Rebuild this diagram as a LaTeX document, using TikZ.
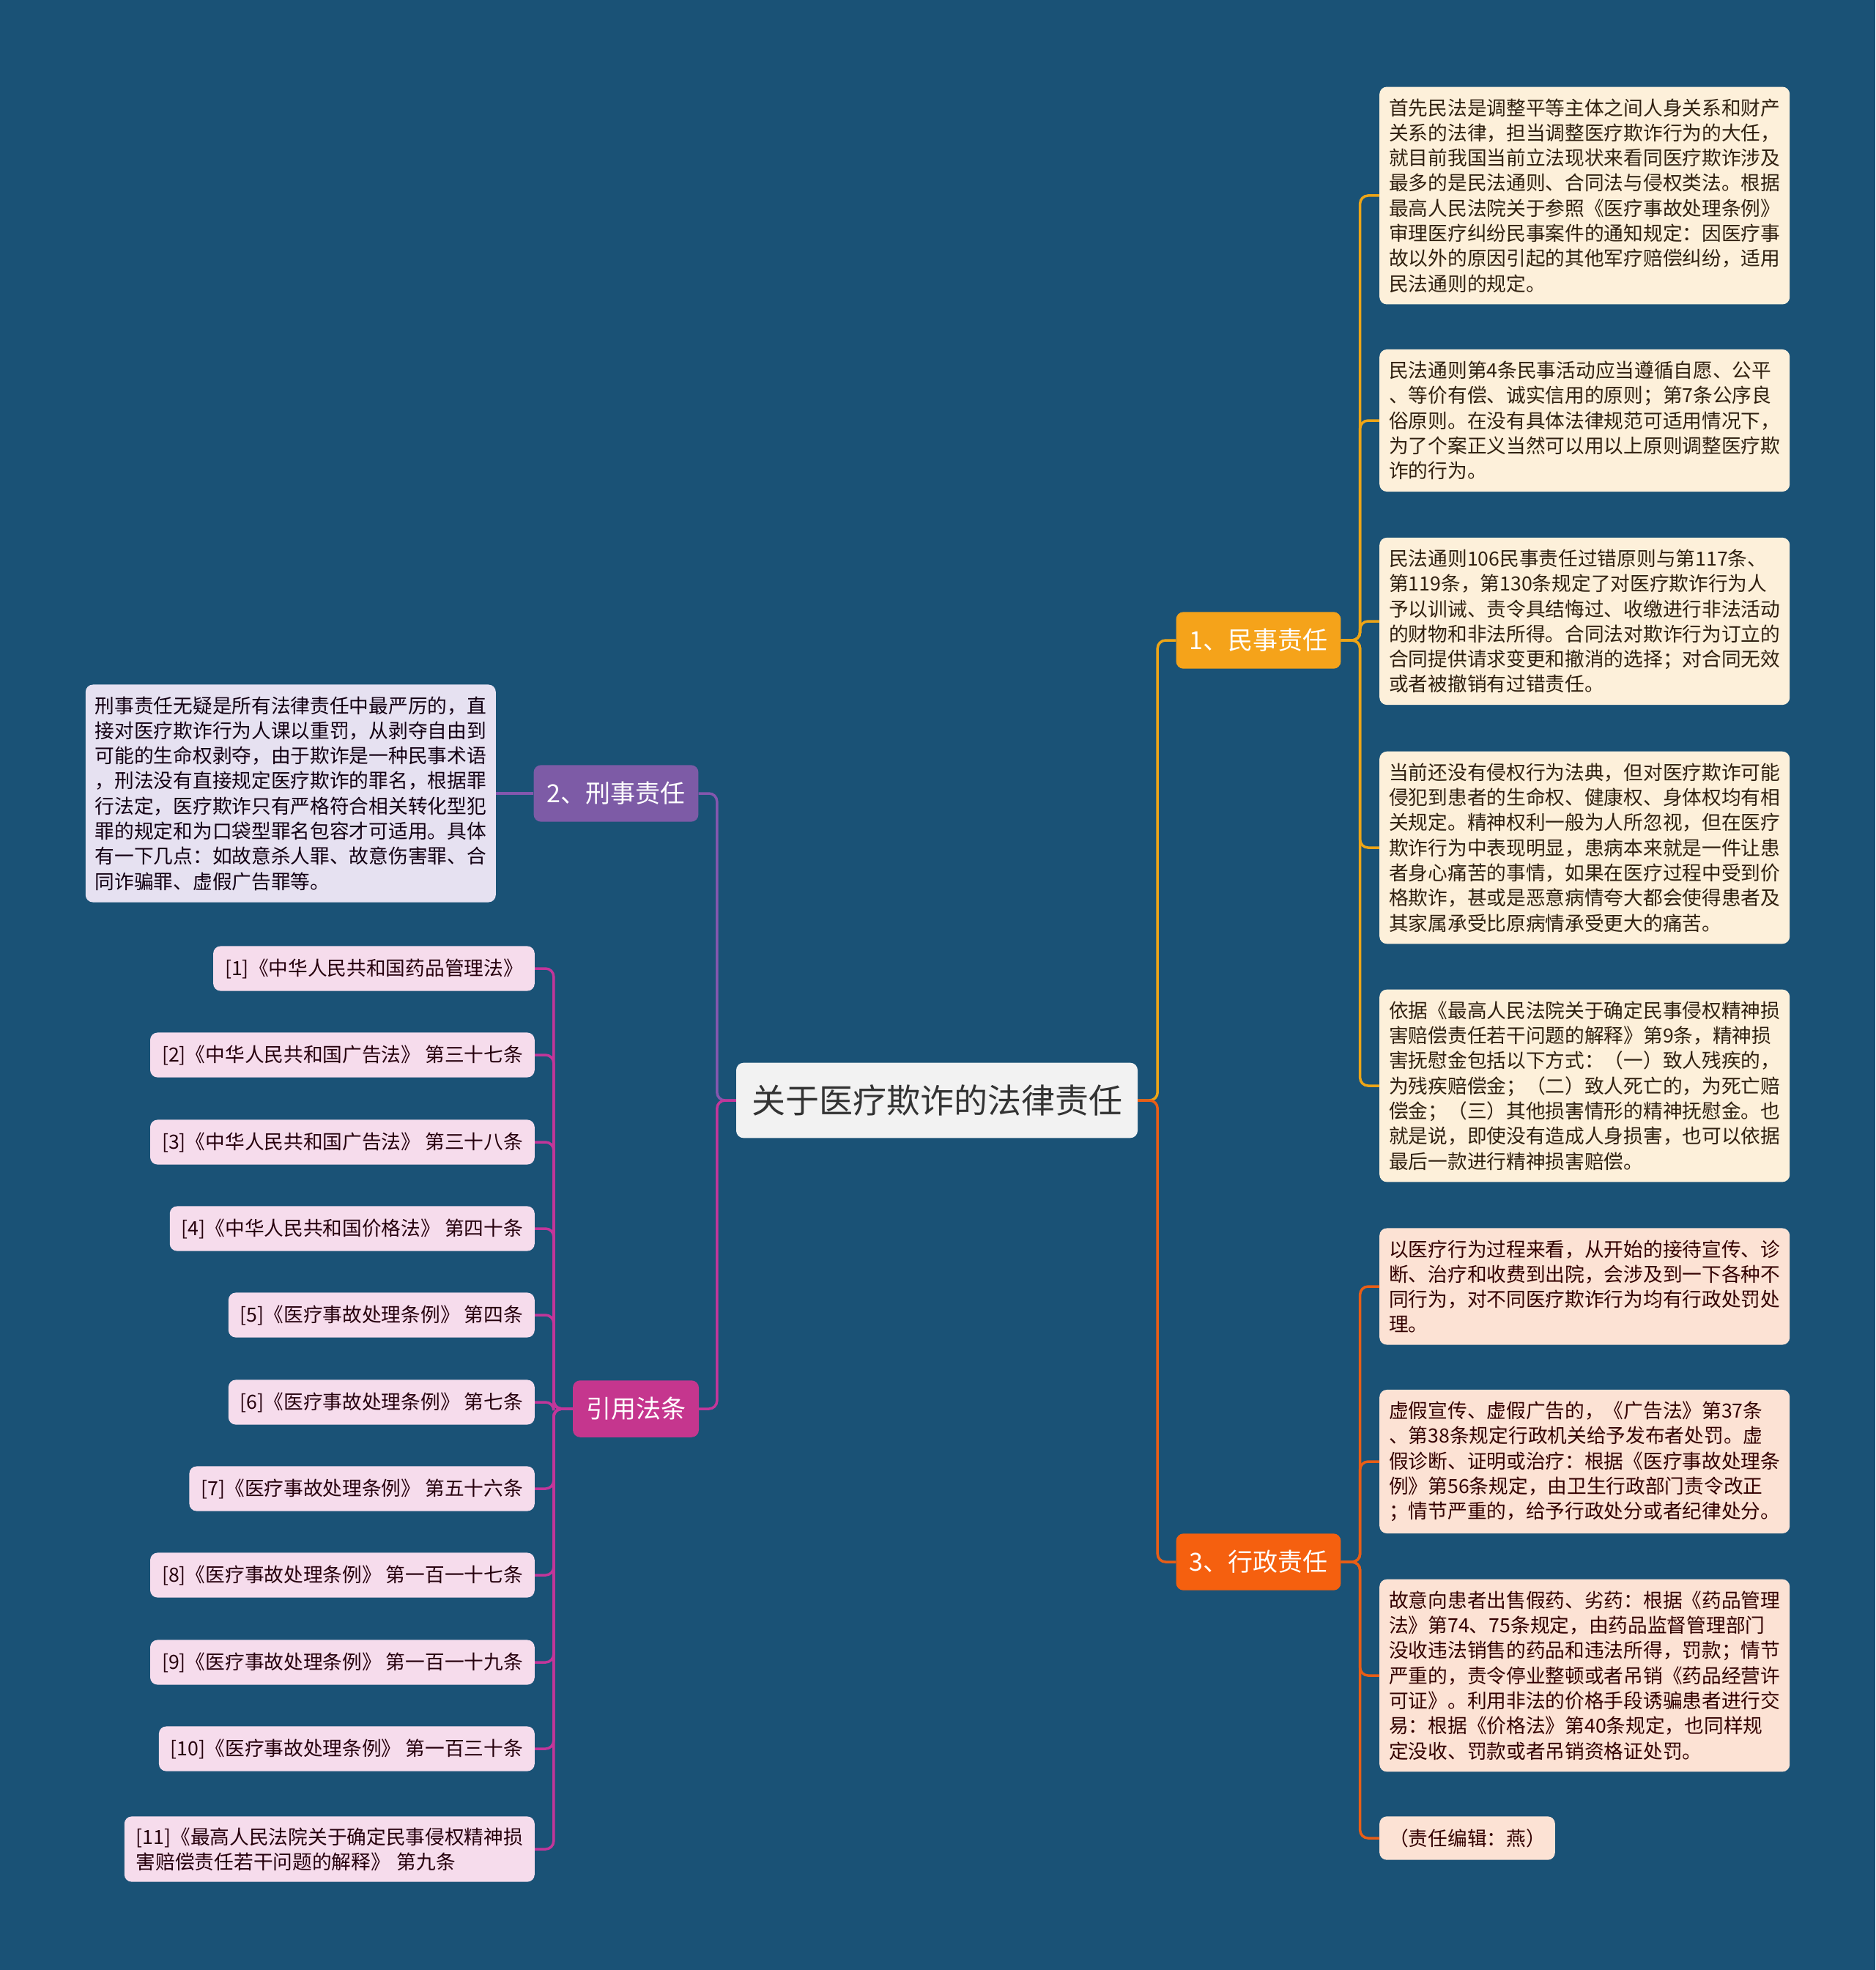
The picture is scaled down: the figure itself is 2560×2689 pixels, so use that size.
\documentclass[tikz,border=0pt]{standalone}
\usepackage{fontspec}
\setmainfont{Noto Sans CJK SC}

\definecolor{bgblue}{HTML}{1A5276}
\definecolor{rootfill}{HTML}{F2F2F2}
\definecolor{civilfill}{HTML}{F5A31A}
\definecolor{crimfill}{HTML}{7D5BA6}
\definecolor{citefill}{HTML}{C5368E}
\definecolor{adminfill}{HTML}{F5600F}
\definecolor{civilleaf}{HTML}{FDF0DA}
\definecolor{adminleaf}{HTML}{FCE2D4}
\definecolor{crimleaf}{HTML}{E6E1F1}
\definecolor{citeleaf}{HTML}{F6DCEC}
\definecolor{civilline}{HTML}{EDA517}
\definecolor{adminline}{HTML}{E85E16}
\definecolor{crimline}{HTML}{8457AE}
\definecolor{citeline}{HTML}{C2369A}

\newcommand{\leaffont}{\fontsize{26.7}{34.3}\selectfont}
\newcommand{\branchfont}{\fontsize{34}{40}\selectfont}
\newcommand{\rootfont}{\fontsize{46}{54}\selectfont}

\begin{document}
\begin{tikzpicture}[x=1pt, y=-1pt,
	box/.style={rounded corners=10pt, align=left},
	branch/.style={box, font=\branchfont, text=white, inner xsep=18pt, inner ysep=23pt},
	civil leaf/.style={box, fill=civilleaf, text=black!75!brown, font=\leaffont, text width=534pt, inner xsep=13pt, inner ysep=16pt},
	admin leaf/.style={civil leaf, fill=adminleaf, text=black!80!red},
	crim leaf/.style={civil leaf, fill=crimleaf, text=black!85!violet},
	cite leaf/.style={box, fill=citeleaf, text=black!80!purple, font=\leaffont, inner xsep=16pt, inner ysep=17pt},
	link/.style={line width=3.5pt, rounded corners=11pt}]
	\fill[bgblue] (0,0) rectangle (2560,2689);
	\useasboundingbox (0,0) rectangle (2560,2689);

	\node[box, fill=rootfill, text=black!80, font=\rootfont, inner xsep=21pt, inner ysep=30pt] (root) at (1279,1502) {关于医疗欺诈的法律责任};

	\node[branch, fill=civilfill] (b1) at (1718,874) {1、民事责任};
	\node[branch, fill=crimfill] (b2) at (841,1083) {2、刑事责任};
	\node[branch, fill=citefill] (b4) at (868,1923) {引用法条};
	\node[branch, fill=adminfill] (b3) at (1718,2132) {3、行政责任};

	% civil liability
	\node[civil leaf, anchor=west] (c1a) at (1883,267) {首先民法是调整平等主体之间人身关系和财产\\关系的法律，担当调整医疗欺诈行为的大任，\\就目前我国当前立法现状来看同医疗欺诈涉及\\最多的是民法通则、合同法与侵权类法。根据\\最高人民法院关于参照《医疗事故处理条例》\\审理医疗纠纷民事案件的通知规定：因医疗事\\故以外的原因引起的其他军疗赔偿纠纷，适用\\民法通则的规定。};
	\node[civil leaf, anchor=west] (c1b) at (1883,574) {民法通则第4条民事活动应当遵循自愿、公平\\、等价有偿、诚实信用的原则；第7条公序良\\俗原则。在没有具体法律规范可适用情况下，\\为了个案正义当然可以用以上原则调整医疗欺\\诈的行为。};
	\node[civil leaf, anchor=west] (c1c) at (1883,848) {民法通则106民事责任过错原则与第117条、\\第119条，第130条规定了对医疗欺诈行为人\\予以训诫、责令具结悔过、收缴进行非法活动\\的财物和非法所得。合同法对欺诈行为订立的\\合同提供请求变更和撤消的选择；对合同无效\\或者被撤销有过错责任。};
	\node[civil leaf, anchor=west] (c1d) at (1883,1157) {当前还没有侵权行为法典，但对医疗欺诈可能\\侵犯到患者的生命权、健康权、身体权均有相\\关规定。精神权利一般为人所忽视，但在医疗\\欺诈行为中表现明显，患病本来就是一件让患\\者身心痛苦的事情，如果在医疗过程中受到价\\格欺诈，甚或是恶意病情夸大都会使得患者及\\其家属承受比原病情承受更大的痛苦。};
	\node[civil leaf, anchor=west] (c1e) at (1883,1482) {依据《最高人民法院关于确定民事侵权精神损\\害赔偿责任若干问题的解释》第9条，精神损\\害抚慰金包括以下方式：（一）致人残疾的，\\为残疾赔偿金；（二）致人死亡的，为死亡赔\\偿金；（三）其他损害情形的精神抚慰金。也\\就是说，即使没有造成人身损害，也可以依据\\最后一款进行精神损害赔偿。};

	% administrative liability
	\node[admin leaf, anchor=west] (c3a) at (1883,1756) {以医疗行为过程来看，从开始的接待宣传、诊\\断、治疗和收费到出院，会涉及到一下各种不\\同行为，对不同医疗欺诈行为均有行政处罚处\\理。};
	\node[admin leaf, anchor=west] (c3b) at (1883,1995) {虚假宣传、虚假广告的，《广告法》第37条\\、第38条规定行政机关给予发布者处罚。虚\\假诊断、证明或治疗：根据《医疗事故处理条\\例》第56条规定，由卫生行政部门责令改正\\；情节严重的，给予行政处分或者纪律处分。};
	\node[admin leaf, anchor=west] (c3c) at (1883,2287) {故意向患者出售假药、劣药：根据《药品管理\\法》第74、75条规定，由药品监督管理部门\\没收违法销售的药品和违法所得，罚款；情节\\严重的，责令停业整顿或者吊销《药品经营许\\可证》。利用非法的价格手段诱骗患者进行交\\易：根据《价格法》第40条规定，也同样规\\定没收、罚款或者吊销资格证处罚。};
	\node[admin leaf, anchor=west, text width=, inner xsep=13pt, inner ysep=17pt] (c3d) at (1883,2509) {（责任编辑：燕）};

	% criminal liability
	\node[crim leaf, anchor=east] (c2) at (677,1083) {刑事责任无疑是所有法律责任中最严厉的，直\\接对医疗欺诈行为人课以重罚，从剥夺自由到\\可能的生命权剥夺，由于欺诈是一种民事术语\\，刑法没有直接规定医疗欺诈的罪名，根据罪\\行法定，医疗欺诈只有严格符合相关转化型犯\\罪的规定和为口袋型罪名包容才可适用。具体\\有一下几点：如故意杀人罪、故意伤害罪、合\\同诈骗罪、虚假广告罪等。};

	% cited articles
	\node[cite leaf, anchor=east] (r1) at (730,1322) {[1]《中华人民共和国药品管理法》};
	\node[cite leaf, anchor=east] (r2) at (730,1440) {[2]《中华人民共和国广告法》 第三十七条};
	\node[cite leaf, anchor=east] (r3) at (730,1559) {[3]《中华人民共和国广告法》 第三十八条};
	\node[cite leaf, anchor=east] (r4) at (730,1677) {[4]《中华人民共和国价格法》 第四十条};
	\node[cite leaf, anchor=east] (r5) at (730,1795) {[5]《医疗事故处理条例》 第四条};
	\node[cite leaf, anchor=east] (r6) at (730,1914) {[6]《医疗事故处理条例》 第七条};
	\node[cite leaf, anchor=east] (r7) at (730,2032) {[7]《医疗事故处理条例》 第五十六条};
	\node[cite leaf, anchor=east] (r8) at (730,2150) {[8]《医疗事故处理条例》 第一百一十七条};
	\node[cite leaf, anchor=east] (r9) at (730,2269) {[9]《医疗事故处理条例》 第一百一十九条};
	\node[cite leaf, anchor=east] (r10) at (730,2387) {[10]《医疗事故处理条例》 第一百三十条};
	\node[cite leaf, anchor=east, text width=528pt, inner ysep=15pt] (r11) at (730,2524) {[11]《最高人民法院关于确定民事侵权精神损\\害赔偿责任若干问题的解释》 第九条};

	% connectors
	\draw[link, civilline] (root.east) -- ++(27,0) |- (b1.west);
	\draw[link, adminline] (root.east) -- ++(27,0) |- (b3.west);
	\draw[link, crimline] (root.west) -- ++(-26,0) |- (b2.east);
	\draw[link, citeline] (root.west) -- ++(-26,0) |- (b4.east);

	\draw[link, civilline] (b1.east) -- ++(26,0) |- (c1a.west);
	\draw[link, civilline] (b1.east) -- ++(26,0) |- (c1b.west);
	\draw[link, civilline] (b1.east) -- ++(26,0) |- (c1c.west);
	\draw[link, civilline] (b1.east) -- ++(26,0) |- (c1d.west);
	\draw[link, civilline] (b1.east) -- ++(26,0) |- (c1e.west);

	\draw[link, adminline] (b3.east) -- ++(26,0) |- (c3a.west);
	\draw[link, adminline] (b3.east) -- ++(26,0) |- (c3b.west);
	\draw[link, adminline] (b3.east) -- ++(26,0) |- (c3c.west);
	\draw[link, adminline] (b3.east) -- ++(26,0) |- (c3d.west);

	\draw[link, crimline] (b2.west) -- (c2.east);

	\draw[link, citeline] (b4.west) -- ++(-26,0) |- (r1.east);
	\draw[link, citeline] (b4.west) -- ++(-26,0) |- (r2.east);
	\draw[link, citeline] (b4.west) -- ++(-26,0) |- (r3.east);
	\draw[link, citeline] (b4.west) -- ++(-26,0) |- (r4.east);
	\draw[link, citeline] (b4.west) -- ++(-26,0) |- (r5.east);
	\draw[link, citeline] (b4.west) -- ++(-26,0) |- (r6.east);
	\draw[link, citeline] (b4.west) -- ++(-26,0) |- (r7.east);
	\draw[link, citeline] (b4.west) -- ++(-26,0) |- (r8.east);
	\draw[link, citeline] (b4.west) -- ++(-26,0) |- (r9.east);
	\draw[link, citeline] (b4.west) -- ++(-26,0) |- (r10.east);
	\draw[link, citeline] (b4.west) -- ++(-26,0) |- (r11.east);
\end{tikzpicture}
\end{document}
